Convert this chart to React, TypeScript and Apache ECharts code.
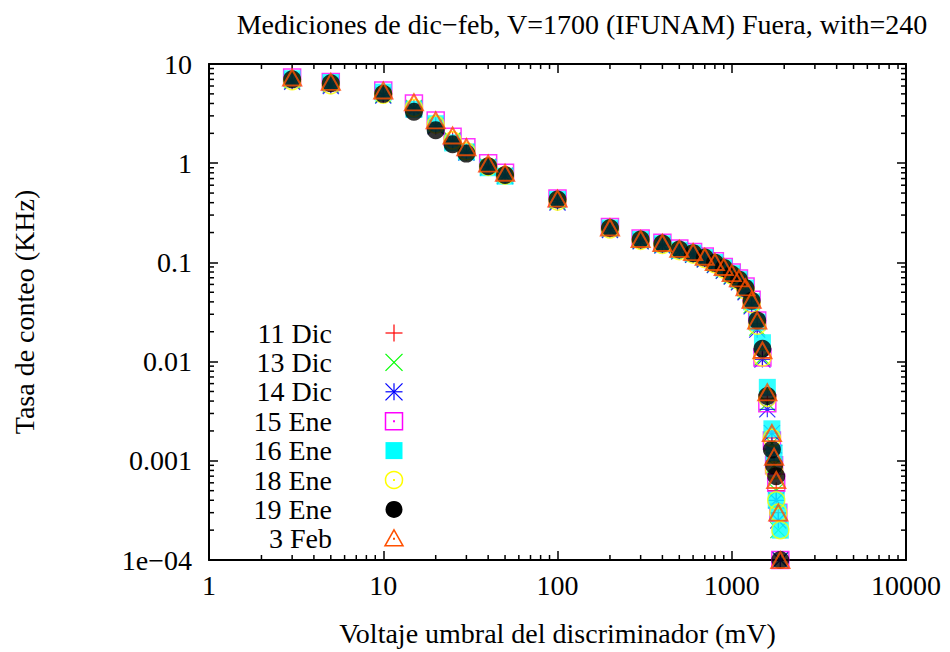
import React, { useEffect, useRef } from 'react';
import * as echarts from 'echarts';

const TITLE = 'Mediciones de dic\u2212feb, V=1700 (IFUNAM) Fuera, with=240';
const X_NAME = 'Voltaje umbral del discriminador (mV)';
const Y_NAME = 'Tasa de conteo (KHz)';
const X_TICK_LABELS = ['1', '10', '100', '1000', '10000'];
const Y_TICK_LABELS = ['1e\u221204', '0.001', '0.01', '0.1', '1', '10'];

const VOLTAGES = [3, 5, 10, 15, 20, 25, 30, 40, 50, 100, 200, 300, 400, 500, 600, 700, 800, 900, 1000, 1100, 1200, 1300, 1400, 1500, 1600, 1700, 1750, 1800, 1850, 1900];

const DIC11 = [6.9, 6.3, 5.0, 3.6, 2.45, 1.7, 1.3, 0.93, 0.76, 0.42, 0.22, 0.168, 0.152, 0.133, 0.122, 0.11, 0.098, 0.086, 0.075, 0.066, 0.053, 0.039, 0.024, 0.011, 0.0042, 0.0017, 0.001, 0.0005, 0.0003, 0.0001];
const DIC13 = [6.8, 6.2, 4.9, 3.6, 2.4, 1.7, 1.3, 0.92, 0.75, 0.41, 0.215, 0.165, 0.15, 0.13, 0.12, 0.108, 0.095, 0.083, 0.073, 0.064, 0.051, 0.037, 0.022, 0.011, 0.0038, 0.0015, 0.0009, 0.0005, 0.0002, 0.0001];
const DIC14 = [6.6, 6.0, 4.8, 3.5, 2.35, 1.65, 1.28, 0.9, 0.74, 0.4, 0.212, 0.163, 0.148, 0.129, 0.119, 0.107, 0.094, 0.082, 0.072, 0.063, 0.05, 0.036, 0.021, 0.0105, 0.0033, 0.0019, 0.0012, 0.0004, 0.00025, 0.0001];
const ENE15 = [7.3, 6.6, 5.4, 4.0, 2.7, 1.85, 1.45, 1.0, 0.8, 0.44, 0.228, 0.174, 0.158, 0.138, 0.127, 0.115, 0.103, 0.09, 0.079, 0.069, 0.057, 0.042, 0.026, 0.011, 0.0038, 0.0016, 0.0009, 0.0006, 0.0003, 0.0001];
const ENE16 = [7.1, 6.5, 5.2, 3.5, 2.5, 1.6, 1.3, 0.9, 0.74, 0.43, 0.222, 0.17, 0.154, 0.133, 0.124, 0.112, 0.1, 0.088, 0.077, 0.067, 0.055, 0.04, 0.025, 0.0155, 0.0055, 0.0021, 0.0012, 0.0004, 0.0003, 0.0002];
const ENE18 = [6.7, 6.1, 4.9, 3.6, 2.45, 1.7, 1.32, 0.92, 0.75, 0.41, 0.215, 0.165, 0.15, 0.13, 0.12, 0.108, 0.096, 0.085, 0.074, 0.065, 0.052, 0.038, 0.023, 0.011, 0.0043, 0.0017, 0.0008, 0.0004, 0.0003, 0.0002];
const ENE19 = [7.0, 6.4, 5.0, 3.3, 2.15, 1.55, 1.25, 0.93, 0.76, 0.43, 0.222, 0.17, 0.155, 0.135, 0.124, 0.112, 0.099, 0.088, 0.076, 0.067, 0.055, 0.041, 0.026, 0.0135, 0.0045, 0.0013, 0.0009, 0.0007, null, 0.0001];
const FEB3 = [7.3, 6.6, 5.4, 4.1, 2.7, 1.9, 1.45, 0.99, 0.8, 0.44, 0.225, 0.172, 0.157, 0.137, 0.127, 0.114, 0.101, 0.09, 0.078, 0.069, 0.056, 0.042, 0.026, 0.013, 0.0049, 0.0019, 0.0011, 0.00064, 0.0003, 0.0001];

const SERIES_NAMES = ['11 Dic', '13 Dic', '14 Dic', '15 Ene', '16 Ene', '18 Ene', '19 Ene', '3 Feb'];
const SERIES_VALUES = [DIC11, DIC13, DIC14, ENE15, ENE16, ENE18, ENE19, FEB3];
const SERIES_COLORS = ['#ff0000', '#00ff00', '#0000ff', '#ff00ff', '#00ffff', '#ffff00', '#000000', '#ff5000'];
const SERIES_KINDS = ['plus', 'cross', 'star', 'box', 'boxFill', 'circle', 'circleFill', 'triangle'];

const X_MIN = 1, X_MAX = 10000, Y_MIN = 1e-4, Y_MAX = 10;
const FONT = '"Liberation Serif", "Times New Roman", serif';

function minorTicks(lo: number, hi: number) {
  const out: number[] = [];
  for (let d = lo; d < hi; d *= 10) for (let k = 2; k <= 9; k++) out.push(+(d * k).toPrecision(6));
  return out;
}

function symbolFor(kind: string, color: string) {
  const t = 'rgba(0,0,0,0)';
  switch (kind) {
    case 'plus': return { symbol: 'path://M0,5L10,5M5,0L5,10', symbolSize: 17, itemStyle: { color: t, borderColor: color, borderWidth: 1.2 } };
    case 'cross': return { symbol: 'path://M0,0L10,10M0,10L10,0', symbolSize: 16, itemStyle: { color: t, borderColor: color, borderWidth: 1.2 } };
    case 'star': return { symbol: 'path://M0,5L10,5M5,0L5,10M0,0L10,10M0,10L10,0', symbolSize: 16, itemStyle: { color: t, borderColor: color, borderWidth: 1.2 } };
    case 'box': return { symbol: 'rect', symbolSize: 17, itemStyle: { color: t, borderColor: color, borderWidth: 1.5 } };
    case 'boxFill': return { symbol: 'rect', symbolSize: 17, itemStyle: { color } };
    case 'circle': return { symbol: 'circle', symbolSize: 17, itemStyle: { color: t, borderColor: color, borderWidth: 1.5 } };
    case 'circleFill': return { symbol: 'circle', symbolSize: 18, itemStyle: { color } };
    default: return { symbol: 'triangle', symbolSize: [18, 16], itemStyle: { color: t, borderColor: color, borderWidth: 2 } };
  }
}

function legendIcon(kind: string, color: string, cx: number, cy: number) {
  const s = 8.5;
  const ln = (x1: number, y1: number, x2: number, y2: number) => ({ type: 'line', shape: { x1: cx + x1, y1: cy + y1, x2: cx + x2, y2: cy + y2 }, style: { stroke: color, lineWidth: 1.2 } });
  const dot = { type: 'rect', shape: { x: cx - 1, y: cy - 1, width: 2, height: 2 }, style: { fill: color } };
  switch (kind) {
    case 'plus': return [ln(-s, 0, s, 0), ln(0, -s, 0, s)];
    case 'cross': return [ln(-s, -s, s, s), ln(-s, s, s, -s)];
    case 'star': return [ln(-s, 0, s, 0), ln(0, -s, 0, s), ln(-s, -s, s, s), ln(-s, s, s, -s), dot];
    case 'box': return [{ type: 'rect', shape: { x: cx - s, y: cy - s, width: 2 * s, height: 2 * s }, style: { fill: 'none', stroke: color, lineWidth: 1.5 } }, dot];
    case 'boxFill': return [{ type: 'rect', shape: { x: cx - s, y: cy - s, width: 2 * s, height: 2 * s }, style: { fill: color } }];
    case 'circle': return [{ type: 'circle', shape: { cx, cy, r: s }, style: { fill: 'none', stroke: color, lineWidth: 1.5 } }, dot];
    case 'circleFill': return [{ type: 'circle', shape: { cx, cy, r: s }, style: { fill: color } }];
    default: return [{ type: 'polygon', shape: { points: [[cx, cy - 9], [cx + 9, cy + 7], [cx - 9, cy + 7]] }, style: { fill: 'none', stroke: color, lineWidth: 1.5 } }, dot];
  }
}

export default function App() {
  const ref = useRef<HTMLDivElement>(null);
  useEffect(() => {
    if (!ref.current) return;
    const chart = echarts.init(ref.current, undefined, { renderer: 'svg' });
    const tickStyle = { color: '#000', width: 1.5 };
    const lineStyle = { color: '#000', width: 2 };
    const xLabel = (v: number) => X_TICK_LABELS[Math.round(Math.log10(v))] ?? '';
    const yLabel = (v: number) => Y_TICK_LABELS[Math.round(Math.log10(v)) + 4] ?? '';

    const scatter = SERIES_NAMES.map((name, i) => ({
      type: 'scatter',
      name,
      clip: false,
      xAxisIndex: 0,
      yAxisIndex: 0,
      ...symbolFor(SERIES_KINDS[i], SERIES_COLORS[i]),
      data: VOLTAGES.map((v, j) => (SERIES_VALUES[i][j] == null ? [v, '-'] : [v, SERIES_VALUES[i][j]])),
    }));

    const xMinor = minorTicks(X_MIN, X_MAX);
    const yMinor = minorTicks(Y_MIN, Y_MAX);
    const tickLine = (x1: number, y1: number, x2: number, y2: number) => ({ type: 'line', shape: { x1, y1, x2, y2 }, style: { stroke: '#000', lineWidth: 1.5 } });

    const legendGraphics: any[] = [];
    SERIES_NAMES.forEach((name, i) => {
      const cy = 333 + i * 29.4;
      legendGraphics.push({ type: 'text', x: 332, y: cy, style: { text: name, font: `28px ${FONT}`, fill: '#000', textAlign: 'right', textVerticalAlign: 'middle' } });
      legendGraphics.push(...legendIcon(SERIES_KINDS[i], SERIES_COLORS[i], 394, cy));
    });

    chart.setOption({
      animation: false,
      backgroundColor: '#fff',
      title: { text: TITLE, left: 577, top: 5, textAlign: 'center', textStyle: { fontFamily: FONT, fontSize: 28, fontWeight: 'normal', color: '#000' } },
      grid: { left: 209, top: 64, width: 697, height: 496, containLabel: false },
      xAxis: [
        {
          type: 'log', logBase: 10, min: X_MIN, max: X_MAX, position: 'bottom',
          axisLine: { lineStyle }, axisTick: { inside: true, length: 9, lineStyle: tickStyle },
          axisLabel: { formatter: xLabel, margin: 11, fontFamily: FONT, fontSize: 28, color: '#000' },
          splitLine: { show: false },
          name: X_NAME, nameLocation: 'middle', nameGap: 59,
          nameTextStyle: { fontFamily: FONT, fontSize: 28, color: '#000' },
        },
        {
          type: 'log', logBase: 10, min: X_MIN, max: X_MAX, position: 'top',
          axisLine: { lineStyle }, axisTick: { inside: true, length: 9, lineStyle: tickStyle },
          axisLabel: { show: false }, splitLine: { show: false },
        },
      ],
      yAxis: [
        {
          type: 'log', logBase: 10, min: Y_MIN, max: Y_MAX, position: 'left',
          axisLine: { lineStyle }, axisTick: { inside: true, length: 9, lineStyle: tickStyle },
          axisLabel: { formatter: yLabel, margin: 17, fontFamily: FONT, fontSize: 28, color: '#000' },
          splitLine: { show: false },
          name: Y_NAME, nameLocation: 'middle', nameGap: 171, nameRotate: 90,
          nameTextStyle: { fontFamily: FONT, fontSize: 28, color: '#000' },
        },
        {
          type: 'log', logBase: 10, min: Y_MIN, max: Y_MAX, position: 'right',
          axisLine: { lineStyle }, axisTick: { inside: true, length: 9, lineStyle: tickStyle },
          axisLabel: { show: false }, splitLine: { show: false },
        },
      ],
      graphic: legendGraphics,
      series: [
        {
          type: 'custom', silent: true, xAxisIndex: 0, yAxisIndex: 0,
          data: xMinor.map((v) => [v, 1]),
          renderItem: (_p: any, api: any) => {
            const v = api.value(0);
            const b = api.coord([v, Y_MIN]);
            const t = api.coord([v, Y_MAX]);
            return { type: 'group', children: [tickLine(b[0], b[1], b[0], b[1] - 5), tickLine(t[0], t[1], t[0], t[1] + 5)] };
          },
        },
        {
          type: 'custom', silent: true, xAxisIndex: 0, yAxisIndex: 0,
          data: yMinor.map((v) => [1, v]),
          renderItem: (_p: any, api: any) => {
            const v = api.value(1);
            const l = api.coord([X_MIN, v]);
            const r = api.coord([X_MAX, v]);
            return { type: 'group', children: [tickLine(l[0], l[1], l[0] + 5, l[1]), tickLine(r[0], r[1], r[0] - 5, r[1])] };
          },
        },
        ...scatter,
      ],
    });
    return () => chart.dispose();
  }, []);
  return <div ref={ref} style={{ position: 'absolute', left: 0, top: 0, width: 950, height: 652 }} />;
}
